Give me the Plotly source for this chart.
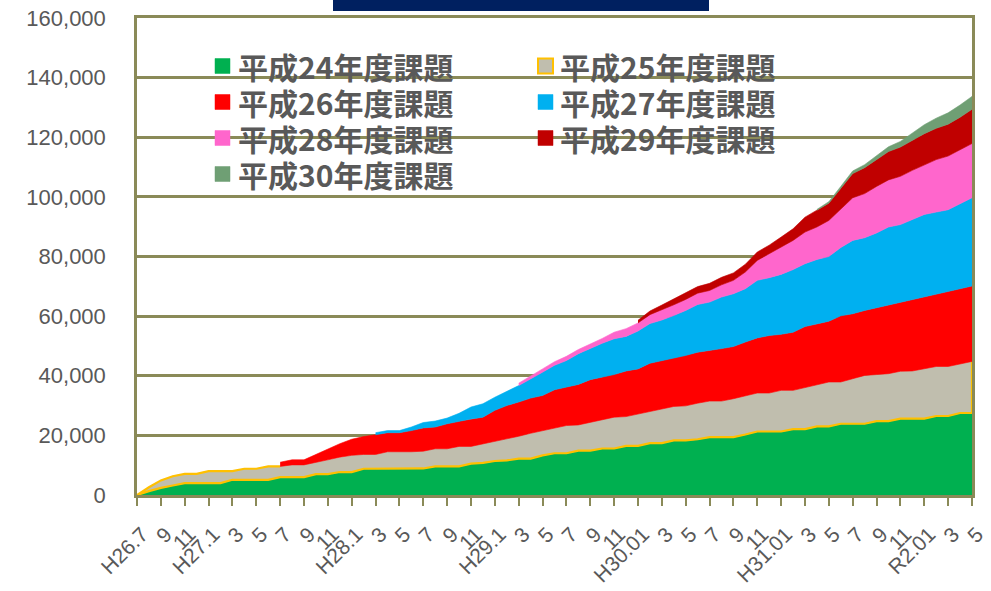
import plotly.graph_objects as go

# Monthly observation points, H26.7 (index 0) through R2.5 (index 70)
months = list(range(71))
tick_pos = list(range(0, 71, 2))
tick_text = ["H26.7", "9", "11", "H27.1", "3", "5", "7", "9", "11",
             "H28.1", "3", "5", "7", "9", "11", "H29.1", "3", "5", "7", "9", "11",
             "H30.01", "3", "5", "7", "9", "11", "H31.01", "3", "5", "7", "9", "11",
             "R2.01", "3", "5"]

series_names = ["平成24年度課題", "平成25年度課題", "平成26年度課題", "平成27年度課題",
                "平成28年度課題", "平成29年度課題", "平成30年度課題"]
series_start = [0, 0, 12, 20, 32, 42, 57]   # month index where each series begins

h24 = [0, 1300, 2400, 3200, 4000, 4000, 4000, 4000, 5100, 5100,
       5100, 5100, 6000, 6000, 6000, 7000, 7000, 7700, 7700, 8800,
       8800, 8800, 8800, 8800, 8900, 9600, 9600, 9600, 10500, 10800,
       11400, 11600, 12200, 12200, 13300, 14000, 14000, 14900, 14900, 15600,
       15600, 16500, 16500, 17400, 17400, 18300, 18300, 18700, 19400, 19400,
       19400, 20300, 21300, 21300, 21300, 22100, 22100, 23000, 23000, 23900,
       23900, 23900, 24800, 24800, 25600, 25600, 25600, 26500, 26500, 27500, 27500]
h25 = [0, 1300, 2500, 3100, 3100, 3100, 4000, 4000, 2900, 3700,
       3700, 4500, 3600, 4100, 4100, 4000, 4800, 5000, 5600, 4800,
       4800, 5700, 5700, 5700, 5800, 5900, 5900, 6700, 5800, 6400,
       6700, 7300, 7500, 8500, 8300, 8500, 9300, 8600, 9500, 9600,
       10500, 9800, 10700, 10700, 11500, 11400, 11600, 12100, 12100, 12100,
       12900, 12900, 12900, 12900, 13800, 13000, 14100, 14000, 14900, 14000,
       15100, 16200, 15600, 15900, 15900, 16000, 16800, 16600, 16600, 16500, 17300]
h26 = [1400, 1700, 1700, 2600, 3400, 4500, 5400, 6000,
       6600, 6400, 6400, 7100, 7800, 7300, 8400, 8400, 9200, 8900,
       10300, 11100, 11500, 11800, 11800, 12800, 12900, 13600, 14300, 14300,
       14300, 15300, 15100, 16100, 16200, 16300, 16900, 17100, 17000, 17600,
       17500, 18100, 18500, 19300, 18800, 19500, 20300, 20400, 20400, 22200,
       21800, 21800, 22400, 23100, 23200, 24000, 24000, 24200, 25000, 25200, 25300]
h27 = [700, 700, 700, 1200, 1800, 2000, 1900, 2700, 4000, 4500,
       4400, 4800, 5500, 6500, 7800, 8200, 8900, 10300, 10400, 11400,
       12000, 11600, 12700, 13300, 13600, 14200, 15100, 16000, 16200, 17300,
       17700, 17900, 19300, 19400, 20100, 21000, 21100, 21600, 21700, 22900,
       24600, 24400, 25100, 26100, 26000, 26800, 27700, 27600, 27600, 28500, 29600]
h28 = [800, 1000, 1100, 1200, 1400, 1400, 1500, 1600,
       2200, 2600, 2700, 3000, 3400, 3600, 3700, 3800, 3900, 4100,
       4500, 5600, 6700, 8000, 9200, 9800, 10600, 10900, 12100, 13000,
       14300, 14800, 15600, 15800, 16200, 16500, 16700, 17600, 18000, 18100, 18200]
h29 = [900, 1200, 1600, 1900, 2100, 2200, 2400, 2500,
       2500, 2600, 2800, 2900, 3300, 3900, 5000, 5600, 5800, 6800,
       8100, 8700, 9000, 9500, 9800, 10000, 10400, 10500, 10700, 10900, 11500]
h30 = [300, 500, 700, 900, 1000, 1300, 1600, 1900, 2400, 3000, 3400, 3800, 4100, 4300]

series_values = [h24, h25, h26, h27, h28, h29, h30]
series_colors = ["#00B050", "#C0BEAE", "#FF0000", "#00B0F0", "#FF66CC", "#C00000", "#6F9F74"]
OUTLINE = "#FFC000"
OLIVE = "#8A8A58"
TEXT = "#595959"

fig = go.Figure()

# Stacked areas drawn as closed polygons so each series starts with a vertical edge
base = [0] * len(months)
for idx, (name, start, vals, color) in enumerate(zip(series_names, series_start,
                                                       series_values, series_colors)):
    xs = months[start:]
    lower = base[start:]
    upper = [lo + v for lo, v in zip(lower, vals)]
    fig.add_trace(go.Scatter(
        x=xs + xs[::-1], y=upper + lower[::-1],
        mode="lines", fill="toself", fillcolor=color,
        line=dict(color=color, width=0.6),
        name=name, hoverinfo="skip", showlegend=False))
    if idx == 1:
        # orange border of the H25 band: exposed top, bottom edge and right end
        red_start = series_start[2]
        ox = months[red_start::-1] + months + [months[-1]]
        oy = upper[red_start::-1] + lower + [upper[-1]]
        fig.add_trace(go.Scatter(x=ox, y=oy, mode="lines",
                                 line=dict(color=OUTLINE, width=2.2),
                                 hoverinfo="skip", showlegend=False))
    base[start:] = upper

# pixel geometry of the plot area
W, H = 991, 591
L, R, T, B = 137, 19, 18, 96
PW, PH = W - L - R, H - T - B


def px_x(px):
    return (px - L) / PW


def px_y(py):
    return (H - B - py) / PH


shapes = [
    # dark header bar at the top edge
    dict(type="rect", xref="paper", yref="paper",
         x0=px_x(333), x1=px_x(709), y0=px_y(11), y1=px_y(-2),
         fillcolor="#002060", line=dict(width=0), layer="above"),
]
annotations = []

# legend laid out in two columns
col_marker = [215, 538]
col_text = [236, 558]
row_y = [66, 102, 138, 174]
for i, (name, color) in enumerate(zip(series_names, series_colors)):
    r, c = divmod(i, 2)
    cy = row_y[r]
    mx = col_marker[c]
    border = OUTLINE if i == 1 else color
    shapes.append(dict(type="rect", xref="paper", yref="paper",
                       x0=px_x(mx), x1=px_x(mx + 15), y0=px_y(cy + 7.5), y1=px_y(cy - 7.5),
                       fillcolor=color, line=dict(color=border, width=2 if i == 1 else 0.5),
                       layer="above"))
    annotations.append(dict(xref="paper", yref="paper", x=px_x(col_text[c]), y=px_y(cy),
                            xanchor="left", yanchor="middle", showarrow=False,
                            text=name,
                            font=dict(family="Noto Sans CJK JP", size=30,
                                      color=TEXT, weight="bold")))

fig.update_layout(
    width=W, height=H,
    margin=dict(l=L, r=R, t=T, b=B, autoexpand=False),
    plot_bgcolor="white", paper_bgcolor="white",
    showlegend=False,
    shapes=shapes, annotations=annotations,
)
fig.update_xaxes(
    range=[0, 70], tickmode="array", tickvals=tick_pos, ticktext=tick_text,
    tickangle=-45, ticks="outside", ticklen=8, tickwidth=2, tickcolor=OLIVE,
    showline=True, linecolor=OLIVE, linewidth=2.5, mirror=True,
    showgrid=False, zeroline=False, automargin=False,
    ticklabelstandoff=8, ticklabelshift=5,
    tickfont=dict(family="Liberation Sans, Arial", size=21, color=TEXT),
)
fig.update_yaxes(
    range=[0, 160000], dtick=20000, tickformat=",",
    showgrid=True, gridcolor=OLIVE, gridwidth=2.5,
    showline=True, linecolor=OLIVE, linewidth=2.5, mirror=True,
    zeroline=False, ticks="", ticklabelstandoff=24, automargin=False,
    tickfont=dict(family="Liberation Sans, Arial", size=22, color=TEXT),
)

fig.write_html("out.html")
